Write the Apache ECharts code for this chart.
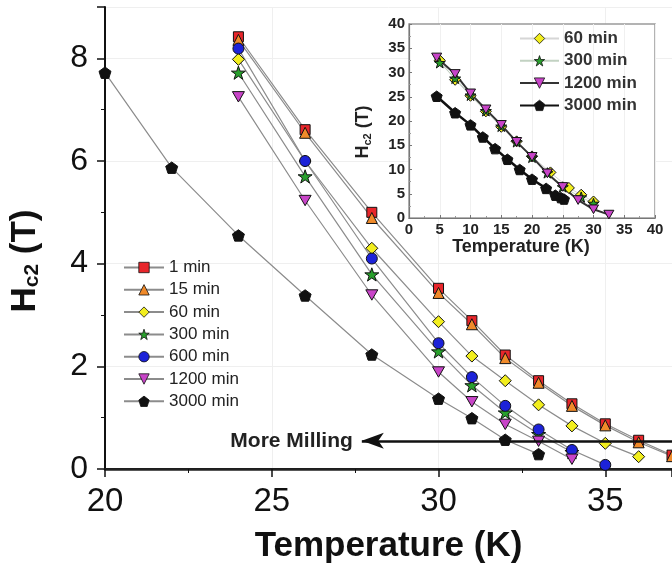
<!DOCTYPE html>
<html>
<head>
<meta charset="utf-8">
<script src="https://cdn.jsdelivr.net/npm/echarts@6/dist/echarts.min.js"></script>
<style>
  html, body { margin: 0; padding: 0; background: #fff; }
  #chart { width: 672px; height: 569px; }
</style>
</head>
<body>
<div id="chart"></div>
<script>
// ---- main panel data (T in K, Hc2 in T) ----
const tempA = [24, 26, 28, 30, 31, 32, 33, 34, 35, 36, 37]
const hc2_1min = [8.42, 6.61, 5.0, 3.52, 2.89, 2.22, 1.72, 1.27, 0.88, 0.56, 0.27]
const hc2_15min = [8.36, 6.55, 4.89, 3.43, 2.82, 2.16, 1.68, 1.23, 0.85, 0.52, 0.25]
const tempB = [24, 26, 28, 30, 31, 32, 33, 34, 35, 36]
const hc2_60min = [7.98, 6.0, 4.3, 2.87, 2.2, 1.72, 1.25, 0.84, 0.5, 0.24]
const tempC = [24, 26, 28, 30, 31, 32, 33, 34]
const hc2_300min = [7.72, 5.7, 3.79, 2.29, 1.63, 1.1, 0.68, 0.33]
const tempD = [24, 26, 28, 30, 31, 32, 33, 34, 35]
const hc2_600min = [8.19, 6.0, 4.1, 2.45, 1.79, 1.23, 0.77, 0.37, 0.08]
const hc2_1200min = [7.25, 5.23, 3.39, 1.89, 1.31, 0.87, 0.54, 0.19]
const tempE = [20, 22, 24, 26, 28, 30, 31, 32, 33]
const hc2_3000min = [7.72, 5.87, 4.55, 3.38, 2.23, 1.37, 0.99, 0.57, 0.29]

// ---- inset data ----
const insetT_60 = [5, 7.5, 10, 12.5, 15, 17.5, 20, 23, 26, 28, 30]
const insetH_60 = [32.5, 28.5, 25.2, 22, 18.8, 15.8, 12.7, 9.4, 6.2, 4.8, 3.4]
const insetT_300 = [5, 7.5, 10, 12.5, 15, 17.5, 20, 22.5, 25, 28, 30]
const insetH_300 = [32, 28.8, 25.3, 22.1, 18.9, 15.7, 12.5, 9.3, 6.4, 4.3, 3.0]
const insetT_1200 = [4.5, 7.5, 10, 12.5, 15, 17.5, 20, 22.5, 25, 27.5, 30, 32.5]
const insetH_1200 = [33.1, 29.7, 25.7, 22.4, 19.2, 15.7, 12.6, 9.2, 6.4, 3.7, 1.8, 0.7]
const insetT_3000 = [4.5, 7.5, 10, 12, 14, 16, 18, 20, 22.3, 23.8, 24.7, 25.2]
const insetH_3000 = [25.1, 21.7, 19.2, 16.7, 14.3, 12.1, 10.0, 8.0, 6.1, 4.7, 4.2, 3.9]

// "More Milling" arrow (data coords)
const arrowLevel = 0.55
const arrowFrom = 37
const arrowTo = 27.7

const mainNames = ['1 min', '15 min', '60 min', '300 min', '600 min', '1200 min', '3000 min']
const insetNames = ['inset 60 min', 'inset 300 min', 'inset 1200 min', 'inset 3000 min']

// marker shapes
const STAR = 'path://M50,0L61.8,35.3L99,35.3L69,57.1L80.4,92.7L50,70.6L19.6,92.7L31,57.1L1,35.3L38.2,35.3Z'
const TRI_DOWN = 'path://M0,0L100,0L50,86.6Z'
const PENTAGON = 'path://M50,0L97.6,34.5L79.4,90.5L20.6,90.5L2.4,34.5Z'

const FONT = '"Liberation Sans", Arial, sans-serif'

const pairs = (xs, ys) => xs.map((x, i) => [x, ys[i]])

/** 主图折线 */
const mainLine = (name, xs, ys, symbol, color, size, extra = {}) => ({
  name,
  type: 'line',
  xAxisIndex: 0,
  yAxisIndex: 0,
  data: pairs(xs, ys),
  symbol,
  symbolSize: size,
  symbolKeepAspect: true,
  showAllSymbol: true,
  lineStyle: { color: '#8c8c8c', width: 1.2 },
  itemStyle: { color, borderColor: '#111', borderWidth: 1 },
  emphasis: { disabled: true },
  z: 3,
  ...extra
})

/** 插图折线 */
const insetLine = (name, xs, ys, symbol, color, size, lineColor, lineWidth) => ({
  name,
  type: 'line',
  xAxisIndex: 2,
  yAxisIndex: 2,
  data: pairs(xs, ys),
  symbol,
  symbolSize: size,
  symbolKeepAspect: true,
  lineStyle: { color: lineColor, width: lineWidth },
  itemStyle: { color, borderColor: '#111', borderWidth: 1 },
  emphasis: { disabled: true },
  z: 6
})

const chart = echarts.init(document.getElementById('chart'), null, { renderer: 'canvas' })

const option = {
  animation: false,
  textStyle: { fontFamily: FONT },
  grid: [
    { left: 101, right: 0, top: 7, bottom: 97 },
    { left: 409, top: 24, width: 246, height: 194, show: true, backgroundColor: '#fff', borderColor: '#9a9a9a', borderWidth: 1.5, z: 4 }
  ],
  xAxis: [
    {
      gridIndex: 0,
      type: 'value',
      min: 20,
      max: 37,
      interval: 5,
      name: 'Temperature (K)',
      nameLocation: 'middle',
      nameGap: 60,
      nameTextStyle: { fontSize: 35, fontWeight: 'bold', color: '#111', fontFamily: FONT },
      axisLine: { lineStyle: { color: '#111', width: 2 } },
      axisTick: { length: 8, lineStyle: { color: '#111', width: 1.5 } },
      minorTick: { show: true, splitNumber: 2, length: 4, lineStyle: { color: '#111' } },
      axisLabel: { fontSize: 33, color: '#111', margin: 16, showMaxLabel: false, fontFamily: FONT },
      splitLine: { show: true, lineStyle: { color: '#efefef', width: 1 } }
    },
    {
      // top frame line
      gridIndex: 0,
      type: 'value',
      position: 'top',
      min: 20,
      max: 37,
      axisLine: { show: true, lineStyle: { color: '#222', width: 2.5 } },
      axisTick: { show: false },
      axisLabel: { show: false },
      splitLine: { show: false }
    },
    {
      gridIndex: 1,
      type: 'value',
      min: 0,
      max: 40,
      interval: 5,
      name: 'Temperature (K)',
      nameLocation: 'middle',
      nameGap: 11,
      nameTextStyle: { fontSize: 18, fontWeight: 'bold', color: '#222', padding: [0, 22, 0, 0], fontFamily: FONT },
      axisLine: { lineStyle: { color: '#777', width: 1.2 } },
      axisTick: { inside: true, length: 3, lineStyle: { color: '#777' } },
      minorTick: { show: true, splitNumber: 2, length: 2, lineStyle: { color: '#999' } },
      axisLabel: { fontSize: 15, fontWeight: 'bold', color: '#222', margin: 4, fontFamily: FONT },
      splitLine: { show: true, lineStyle: { color: '#f0f0f0' } },
      z: 5
    }
  ],
  yAxis: [
    {
      gridIndex: 0,
      type: 'value',
      min: 0,
      max: 9,
      interval: 2,
      name: '{a|H}{b|c2}{a| (T)}',
      nameLocation: 'middle',
      nameGap: 62,
      nameTextStyle: {
        color: '#111',
        padding: [0, 46, 0, 0],
        rich: {
          a: { fontSize: 35, fontWeight: 'bold', color: '#111', fontFamily: FONT },
          b: { fontSize: 21, fontWeight: 'bold', color: '#111', fontFamily: FONT, verticalAlign: 'bottom', padding: [14, 0, 0, 0] }
        }
      },
      axisLine: { show: true, lineStyle: { color: '#111', width: 2 } },
      axisTick: { show: true, length: 8, lineStyle: { color: '#111', width: 1.5 } },
      minorTick: { show: true, splitNumber: 2, length: 4, lineStyle: { color: '#111' } },
      axisLabel: { fontSize: 32, color: '#111', margin: 17, showMaxLabel: false, fontFamily: FONT },
      splitLine: { show: true, lineStyle: { color: '#efefef', width: 1 } }
    },
    {
      gridIndex: 0,
      type: 'value',
      show: false,
      min: 0,
      max: 9
    },
    {
      gridIndex: 1,
      type: 'value',
      min: 0,
      max: 40,
      interval: 5,
      name: '{a|H}{b|c2}{a| (T)}',
      nameLocation: 'middle',
      nameGap: 36,
      nameTextStyle: {
        color: '#222',
        padding: [0, 22, 0, 0],
        rich: {
          a: { fontSize: 18, fontWeight: 'bold', color: '#222', fontFamily: FONT },
          b: { fontSize: 11, fontWeight: 'bold', color: '#222', fontFamily: FONT, verticalAlign: 'bottom', padding: [8, 0, 0, 0] }
        }
      },
      axisLine: { show: true, lineStyle: { color: '#777', width: 1.2 } },
      axisTick: { show: true, inside: true, length: 3, lineStyle: { color: '#777' } },
      minorTick: { show: true, splitNumber: 2, length: 2, lineStyle: { color: '#999' } },
      axisLabel: { fontSize: 15, fontWeight: 'bold', color: '#222', margin: 4, fontFamily: FONT },
      splitLine: { show: false },
      z: 5
    }
  ],
  legend: [
    {
      data: mainNames,
      orient: 'vertical',
      left: 118,
      top: 254,
      itemWidth: 40,
      itemHeight: 13,
      itemGap: 5.3,
      selectedMode: false,
      itemStyle: { borderWidth: 0.8 },
      textStyle: { fontSize: 17, color: '#222', fontFamily: FONT }
    },
    {
      data: insetNames,
      orient: 'vertical',
      left: 514,
      top: 25,
      itemWidth: 39,
      itemHeight: 13,
      itemGap: 5.3,
      selectedMode: false,
      itemStyle: { borderWidth: 0.8 },
      formatter: (name) => name.replace('inset ', ''),
      textStyle: { fontSize: 17, fontWeight: 'bold', color: '#333', fontFamily: FONT },
      z: 7
    }
  ],
  series: [
    mainLine('1 min', tempA, hc2_1min, 'rect', '#e8262b', 10),
    mainLine('15 min', tempA, hc2_15min, 'triangle', '#f08a2a', 11),
    mainLine('60 min', tempB, hc2_60min, 'diamond', '#f2ee1e', 12),
    mainLine('300 min', tempC, hc2_300min, STAR, '#28a02c', 14),
    mainLine('600 min', tempD, hc2_600min, 'circle', '#1c22d8', 11),
    mainLine('1200 min', tempC, hc2_1200min, TRI_DOWN, '#c844c8', 12),
    mainLine('3000 min', tempE, hc2_3000min, PENTAGON, '#111', 12, {
      markLine: {
        silent: true,
        symbol: ['none', 'arrow'],
        symbolSize: [12, 22],
        lineStyle: { color: '#111', width: 2.5, type: 'solid' },
        label: {
          show: true,
          position: 'end',
          distance: 9,
          formatter: 'More Milling',
          fontSize: 21,
          fontWeight: 'bold',
          color: '#222',
          fontFamily: FONT
        },
        data: [[{ coord: [arrowFrom, arrowLevel] }, { coord: [arrowTo, arrowLevel] }]]
      }
    }),
    insetLine('inset 60 min', insetT_60, insetH_60, 'diamond', '#f2ee1e', 11, '#d6d6d6', 1),
    insetLine('inset 300 min', insetT_300, insetH_300, STAR, '#28a02c', 11, '#c2d2c2', 1),
    insetLine('inset 1200 min', insetT_1200, insetH_1200, TRI_DOWN, '#c844c8', 10, '#333', 2),
    insetLine('inset 3000 min', insetT_3000, insetH_3000, PENTAGON, '#111', 11, '#111', 2.5)
  ]
}

chart.setOption(option)
</script>
</body>
</html>
